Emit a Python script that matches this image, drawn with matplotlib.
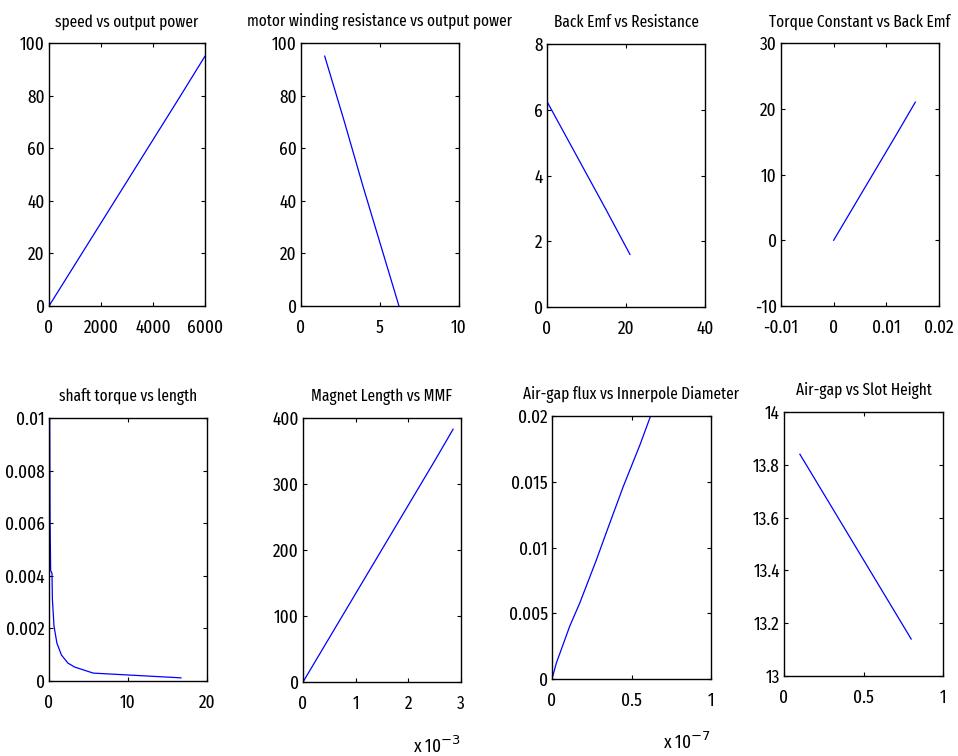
import matplotlib
matplotlib.use("Agg")
import matplotlib.pyplot as plt
from matplotlib.ticker import FuncFormatter

plt.rcParams['font.family'] = ['Fira Sans Extra Condensed', 'Roboto Condensed', 'DejaVu Sans']

# speed vs output power
speed_x = [0, 1000, 2000, 3000, 4000, 5000, 6000]
speed_y = [0, 15.8, 31.6, 47.4, 63.2, 79.0, 95.0]

# motor winding resistance vs output power
wind_x = [1.5, 2.7, 3.9, 5.1, 6.2]
wind_y = [95, 71, 46, 22, 0]

# Back Emf vs Resistance
emf_x = [0, 5, 10, 15, 21]
emf_y = [6.25, 5.15, 4.05, 2.95, 1.6]

# Torque Constant vs Back Emf
kt_x = [0, 0.004, 0.008, 0.012, 0.0155]
kt_y = [0, 5.4, 10.8, 16.2, 21.0]

# shaft torque vs length
shaft_x = [0.09, 0.13, 0.21, 0.38, 0.43, 0.63, 1.0, 1.57, 2.4, 3.25, 5.6, 16.7]
shaft_y = [0.01, 0.00625, 0.0042, 0.0041, 0.0031, 0.0021, 0.00144, 0.00099,
           0.00068, 0.00053, 0.0003, 0.00012]

# Magnet Length vs MMF
mag_x = [0, 0.0005, 0.001, 0.0015, 0.002, 0.0025, 0.00285]
mag_y = [0, 67, 134, 201, 268, 335, 383]

# Air-gap flux vs Innerpole Diameter
flux_x = [0, 0.027e-7, 0.111e-7, 0.174e-7, 0.279e-7, 0.342e-7, 0.447e-7, 0.553e-7, 0.62e-7]
flux_y = [0, 0.0012, 0.004, 0.00576, 0.00905, 0.01115, 0.0146, 0.0178, 0.02]

# Air-gap vs Slot Height
gap_x = [0.1, 0.8]
gap_y = [13.84, 13.14]

W, H = 958, 756
fig = plt.figure(figsize=(W / 100, H / 100), dpi=100)


def make_ax(l, r, t, b):
    return fig.add_axes([l / W, 1 - b / H, (r - l) / W, (b - t) / H])


panels = [
    (make_ax(49, 205, 43, 306), speed_x, speed_y, "speed vs output power",
     (0, 6000), [0, 2000, 4000, 6000], (0, 100), [0, 20, 40, 60, 80, 100], None),
    (make_ax(301, 459, 43, 306), wind_x, wind_y, "motor winding resistance vs output power",
     (0, 10), [0, 5, 10], (0, 100), [0, 20, 40, 60, 80, 100], None),
    (make_ax(547, 705, 44, 307), emf_x, emf_y, "Back Emf vs Resistance",
     (0, 40), [0, 20, 40], (0, 8), [0, 2, 4, 6, 8], None),
    (make_ax(781, 939, 43, 306), kt_x, kt_y, "Torque Constant vs Back Emf",
     (-0.01, 0.02), [-0.01, 0, 0.01, 0.02], (-10, 30), [-10, 0, 10, 20, 30], None),
    (make_ax(49, 207, 418, 681), shaft_x, shaft_y, "shaft torque vs length",
     (0, 20), [0, 10, 20], (0, 0.01), [0, 0.002, 0.004, 0.006, 0.008, 0.01], None),
    (make_ax(303, 461, 418, 682), mag_x, mag_y, "Magnet Length vs MMF",
     (0, 0.003), [0, 0.001, 0.002, 0.003], (0, 400), [0, 100, 200, 300, 400], -3),
    (make_ax(552, 711, 416, 679), flux_x, flux_y, "Air-gap flux vs Innerpole Diameter",
     (0, 1e-7), [0, 0.5e-7, 1e-7], (0, 0.02), [0, 0.005, 0.01, 0.015, 0.02], -7),
    (make_ax(784, 943, 412, 676), gap_x, gap_y, "Air-gap vs Slot Height",
     (0, 1), [0, 0.5, 1], (13, 14), [13, 13.2, 13.4, 13.6, 13.8, 14], None),
]

for ax, x, y, title, xl, xt, yl, yt, expo in panels:
    ax.plot(x, y, color="blue", linewidth=0.9)
    ax.set_xlim(*xl)
    ax.set_ylim(*yl)
    ax.set_xticks(xt)
    ax.set_yticks(yt)
    ax.set_title(title, fontsize=12, pad=12)
    ax.tick_params(direction="in", top=True, right=True, length=3, width=0.8,
                   labelsize=13.5, pad=3)
    ax.xaxis.set_tick_params(pad=9)
    for s in ax.spines.values():
        s.set_linewidth(1.0)
    if expo is not None:
        ax.xaxis.set_major_formatter(FuncFormatter(lambda v, p, e=expo: "%g" % round(v / 10 ** e, 6)))
        ax.text(1.0, -0.2, "x 10$^{%d}$" % expo, transform=ax.transAxes,
                ha="right", va="top", fontsize=13.5)
    else:
        ax.xaxis.set_major_formatter(FuncFormatter(lambda v, p: "%g" % round(v, 6)))
    ax.yaxis.set_major_formatter(FuncFormatter(lambda v, p: "%g" % round(v, 6)))

fig.savefig("out.png", dpi=100, facecolor="white")
